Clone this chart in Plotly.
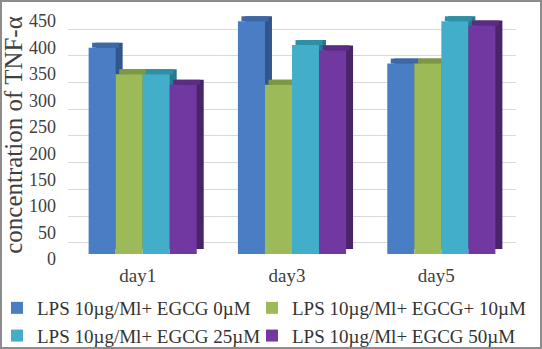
import plotly.graph_objects as go

categories = ["day1", "day3", "day5"]
series_names = [
    "LPS 10µg/Ml+ EGCG 0µM",
    "LPS 10µg/Ml+ EGCG+ 10µM",
    "LPS 10µg/Ml+ EGCG 25µM",
    "LPS 10µg/Ml+ EGCG 50µM",
]
egcg_0 = [390, 440, 360]
egcg_10 = [340, 320, 360]
egcg_25 = [340, 395, 440]
egcg_50 = [320, 385, 432]
y_ticks = [0, 50, 100, 150, 200, 250, 300, 350, 400, 450]

front_colors = ["#4a7ec4", "#9cbb58", "#42aec9", "#7038a0"]
top_colors = ["#3c69a6", "#7d9843", "#2e90a8", "#5a2c84"]
side_colors = ["#30568c", "#667d36", "#247a90", "#4a2468"]

W, H = 542, 349
ML, MR, MT, MB = 68, 26, 16, 95
PW = W - ML - MR
PH = H - MT - MB
Y_MAX = 450

# bar geometry (style): width/offset in category units, fake 3-D depth
n_series = 4
bar_w = 0.181
depth_dx = 7 / (PW / len(categories))      # ~7 px to the right
depth_dy = 5 * Y_MAX / PH                    # ~5 px upwards

series_values = [egcg_0, egcg_10, egcg_25, egcg_50]

fig = go.Figure()
# helper (no visible marks) carrying the back-wall grid axes x/y
fig.add_trace(go.Scatter(x=categories, y=[None, None, None], xaxis="x", yaxis="y",
                         mode="markers", showlegend=False, hoverinfo="skip"))

# side faces (drawn first, behind everything)
for i, vals in enumerate(series_values):
    off = -n_series / 2 * bar_w + i * bar_w
    fig.add_trace(go.Bar(x=categories, y=vals, base=depth_dy, width=bar_w, offset=off + depth_dx,
                         xaxis="x2", yaxis="y2", marker=dict(color=side_colors[i], line=dict(width=0)),
                         showlegend=False, hoverinfo="skip"))
# top faces
for i, vals in enumerate(series_values):
    off = -n_series / 2 * bar_w + i * bar_w
    fig.add_trace(go.Bar(x=categories, y=[depth_dy] * len(vals), base=vals, width=bar_w,
                         offset=off + depth_dx / 2,
                         xaxis="x2", yaxis="y2", marker=dict(color=top_colors[i], line=dict(width=0)),
                         showlegend=False, hoverinfo="skip"))
# front faces (the actual values)
legend_of = ["legend", "legend2", "legend", "legend2"]
for i, (name, vals) in enumerate(zip(series_names, series_values)):
    off = -n_series / 2 * bar_w + i * bar_w
    fig.add_trace(go.Bar(name=name, x=categories, y=vals, width=bar_w, offset=off,
                         xaxis="x2", yaxis="y2", legend=legend_of[i],
                         marker=dict(color=front_colors[i], line=dict(width=0))))

font_family = "Liberation Serif"
legend_common = dict(orientation="v", xanchor="left", yanchor="top", traceorder="normal",
                     font=dict(size=19, color="#333333"), bgcolor="rgba(0,0,0,0)",
                     itemsizing="constant", y=-(289 - (H - MB)) / PH)
fig.update_layout(
    width=W, height=H,
    margin=dict(l=ML, r=MR, t=MT, b=MB, autoexpand=False),
    paper_bgcolor="white", plot_bgcolor="rgba(0,0,0,0)",
    barmode="overlay",
    font=dict(family=font_family, color="#404040"),
    # back-wall grid (perspective: wall zero sits a little above the floor front)
    xaxis=dict(domain=[0, 1], anchor="y", showgrid=False, zeroline=False, showline=False,
               showticklabels=False, ticks=""),
    yaxis=dict(domain=[0, 1], anchor="x", range=[-20.6, 424.3], tick0=0, dtick=50,
               showgrid=True, gridcolor="#d9d9d9", gridwidth=1, zeroline=False,
               showticklabels=False, ticks="", showline=False),
    # value axes for the bars
    xaxis2=dict(domain=[0, 1], anchor="y2", showgrid=False, zeroline=False, showline=False, ticks="",
                tickfont=dict(size=19, color="#404040"), ticklabelstandoff=8,
                ticklabelshift=-5),
    yaxis2=dict(domain=[0, 1], anchor="x2", side="left", range=[0, Y_MAX], tickvals=y_ticks,
                showgrid=False, zeroline=False, showline=False, ticks="",
                tickfont=dict(size=18, color="#404040"),
                ticklabelstandoff=11, ticklabelshift=5,
                title=dict(text="concentration of TNF-α", font=dict(size=25, color="#404040"), standoff=0)),
    legend=dict(x=(-3 - ML) / PW, **legend_common),
    legend2=dict(x=(252 - ML) / PW, **legend_common),
    shapes=[dict(type="rect", xref="paper", yref="paper",
                 x0=-(ML - 1) / PW, x1=1 + (MR - 1) / PW,
                 y0=-(MB - 1) / PH, y1=1 + (MT - 1) / PH,
                 line=dict(color="#8c8c8c", width=2), fillcolor="rgba(0,0,0,0)", layer="above")],
)
fig.write_html("out.html", config={"displayModeBar": False},
               post_script="document.body.style.margin='0';document.body.style.overflow='hidden';")
